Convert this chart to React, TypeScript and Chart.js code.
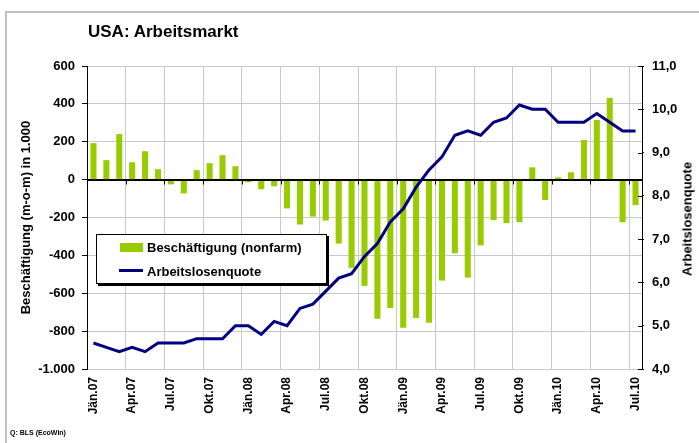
import React, { useEffect, useRef } from "react";
import { Chart, registerables } from "chart.js";

Chart.register(...registerables);

const FONT = "'Liberation Sans', Arial, Helvetica, sans-serif";

const months = [
  "Jän.07", "Feb.07", "Mär.07", "Apr.07", "Mai.07", "Jun.07", "Jul.07", "Aug.07", "Sep.07", "Okt.07", "Nov.07", "Dez.07",
  "Jän.08", "Feb.08", "Mär.08", "Apr.08", "Mai.08", "Jun.08", "Jul.08", "Aug.08", "Sep.08", "Okt.08", "Nov.08", "Dez.08",
  "Jän.09", "Feb.09", "Mär.09", "Apr.09", "Mai.09", "Jun.09", "Jul.09", "Aug.09", "Sep.09", "Okt.09", "Nov.09", "Dez.09",
  "Jän.10", "Feb.10", "Mär.10", "Apr.10", "Mai.10", "Jun.10", "Jul.10",
];

const employment = [
  193, 103, 241, 92, 150, 55, -25, -73, 50, 87, 129, 71,
  -14, -51, -35, -152, -237, -195, -216, -338, -466, -561, -735, -678,
  -782, -731, -756, -533, -389, -517, -347, -214, -230, -225, 65, -108,
  12, 39, 209, 315, 432, -225, -135,
];

const unemployment = [
  4.6, 4.5, 4.4, 4.5, 4.4, 4.6, 4.6, 4.6, 4.7, 4.7, 4.7, 5.0,
  5.0, 4.8, 5.1, 5.0, 5.4, 5.5, 5.8, 6.1, 6.2, 6.6, 6.9, 7.4,
  7.7, 8.2, 8.6, 8.9, 9.4, 9.5, 9.4, 9.7, 9.8, 10.1, 10.0, 10.0,
  9.7, 9.7, 9.7, 9.9, 9.7, 9.5, 9.5,
];

const seriesLabels = ["Beschäftigung (nonfarm)", "Arbeitslosenquote"];
const chartTitle = "USA: Arbeitsmarkt";
const leftAxisTitle = "Beschäftigung (m-o-m) in 1.000";
const rightAxisTitle = "Arbeitslosenquote";
const sourceText = "Q: BLS (EcoWin)";

const leftRange = [-1000, 600, 200];
const rightRange = [4, 11, 1];

const BAR_COLOR = "#99cc00";
const LINE_COLOR = "#000080";
const GRID = "#c8c8c8";

function fmtLeft(v: number): string {
  const neg = v < 0;
  const a = Math.abs(v);
  let s: string;
  if (a >= 1000) {
    s = Math.floor(a / 1000) + "." + String(a % 1000).padStart(3, "0");
  } else {
    s = String(a);
  }
  return (neg ? "-" : "") + s;
}

function fmtRight(v: number): string {
  return v.toFixed(1).replace(".", ",");
}

const axisDecor = {
  id: "axisDecor",
  afterDatasetDraw(chart: any, args: any) {
    if (args.index !== 0) return;
    const { ctx } = chart;
    const x = chart.scales.x;
    const y = chart.scales.y;
    const y1 = chart.scales.y1;
    const y0 = Math.round(y.getPixelForValue(0)) + 0.5;
    ctx.save();
    ctx.strokeStyle = "#000";
    ctx.lineWidth = 1;
    ctx.beginPath();
    ctx.moveTo(x.left, y0);
    ctx.lineTo(x.right, y0);
    const w = x.width / months.length;
    for (let i = 0; i <= months.length; i += 3) {
      const px = Math.round(x.left + i * w) + 0.5;
      ctx.moveTo(px, y0);
      ctx.lineTo(px, y0 + 4);
    }
    y1.ticks.forEach((t: any) => {
      const py = Math.round(y1.getPixelForValue(t.value)) + 0.5;
      ctx.moveTo(y1.left - 4, py);
      ctx.lineTo(y1.left, py);
    });
    ctx.stroke();
    ctx.restore();
  },
};

export default function App() {
  const ref = useRef<HTMLCanvasElement | null>(null);

  useEffect(() => {
    document.body.style.margin = "0";
    if (!ref.current) return;
    const tickFont = { family: FONT, size: 13, weight: "bold" as const };
    const chart = new Chart(ref.current, {
      type: "bar",
      data: {
        labels: months,
        datasets: [
          {
            type: "bar",
            label: seriesLabels[0],
            data: employment,
            backgroundColor: BAR_COLOR,
            borderWidth: 0,
            categoryPercentage: 1,
            barPercentage: 0.47,
            yAxisID: "y",
            order: 1,
          },
          {
            type: "line",
            label: seriesLabels[1],
            data: unemployment,
            borderColor: LINE_COLOR,
            backgroundColor: LINE_COLOR,
            borderWidth: 3,
            pointRadius: 0,
            tension: 0,
            fill: false,
            yAxisID: "y1",
            order: 0,
          } as any,
        ],
      },
      options: {
        animation: false,
        responsive: false,
        maintainAspectRatio: false,
        devicePixelRatio: 1,
        layout: { padding: { top: 66, left: 0, right: 0, bottom: 0 } },
        plugins: {
          legend: { display: false },
          tooltip: { enabled: false },
          title: { display: false },
        },
        scales: {
          x: {
            type: "category",
            offset: true,
            grid: {
              offset: true,
              drawTicks: false,
              color: (c: any) =>
                c.index === undefined || c.index % 3 === 0 ? GRID : "rgba(0,0,0,0)",
            },
            border: { color: GRID },
            ticks: {
              autoSkip: false,
              maxRotation: 90,
              minRotation: 90,
              padding: 8,
              color: "#000",
              font: { family: FONT, size: 12, weight: "bold" },
              callback: (_v: any, i: number) => (i % 3 === 0 ? months[i] : ""),
            },
            afterFit: (s: any) => {
              s.height = 74;
            },
          },
          y: {
            position: "left",
            min: leftRange[0],
            max: leftRange[1],
            ticks: {
              stepSize: leftRange[2],
              padding: 7,
              color: "#000",
              font: tickFont,
              callback: (v: any) => fmtLeft(Number(v)),
            },
            grid: {
              color: (c: any) => (c.tick && c.tick.value === 0 ? "#000" : GRID),
              tickColor: "#000",
              tickLength: 5,
            },
            border: { color: "#000" },
            title: {
              display: true,
              text: leftAxisTitle,
              color: "#000",
              font: { family: FONT, size: 13, weight: "bold" },
              padding: { top: 19, bottom: 0 },
            },
            afterFit: (s: any) => {
              s.width = 87;
            },
          },
          y1: {
            position: "right",
            min: rightRange[0],
            max: rightRange[1],
            ticks: {
              stepSize: rightRange[2],
              padding: 8,
              color: "#000",
              font: tickFont,
              callback: (v: any) => fmtRight(Number(v)),
            },
            grid: {
              drawOnChartArea: false,
              tickColor: "#000",
              tickLength: 2,
            },
            border: { color: "#000" },
            afterFit: (s: any) => {
              s.width = 57;
            },
          },
        },
      } as any,
      plugins: [axisDecor],
    });
    return () => chart.destroy();
  }, []);

  const textBase: React.CSSProperties = {
    position: "absolute",
    fontFamily: FONT,
    fontWeight: "bold",
    color: "#000",
    whiteSpace: "nowrap",
  };

  return (
    <div style={{ position: "relative", width: 699, height: 443, overflow: "hidden", background: "#fff" }}>
      <div
        style={{
          position: "absolute",
          left: 5,
          top: 11,
          width: 720,
          height: 460,
          borderTop: "2px solid #c0c0c0",
          borderLeft: "2px solid #c0c0c0",
        }}
      />
      <canvas ref={ref} width={699} height={443} style={{ position: "absolute", left: 0, top: 0, display: "block" }} />
      <div style={{ ...textBase, left: 88, top: 23, fontSize: 17, lineHeight: "17px" }}>{chartTitle}</div>
      <div
        style={{
          ...textBase,
          left: 687,
          top: 219,
          fontSize: 13,
          lineHeight: "13px",
          transform: "translate(-50%, -50%) rotate(-90deg)",
        }}
      >
        {rightAxisTitle}
      </div>
      <div
        style={{
          position: "absolute",
          left: 96,
          top: 234,
          width: 229,
          height: 48,
          background: "#fff",
          border: "1px solid #000",
          boxShadow: "2px 2px 0 #000",
        }}
      />
      <div style={{ position: "absolute", left: 120, top: 243, width: 23, height: 9, background: BAR_COLOR }} />
      <div style={{ ...textBase, left: 147, top: 241, fontSize: 13, lineHeight: "13px" }}>{seriesLabels[0]}</div>
      <div style={{ position: "absolute", left: 119, top: 269, width: 24, height: 3, background: LINE_COLOR }} />
      <div style={{ ...textBase, left: 147, top: 265, fontSize: 13, lineHeight: "13px" }}>{seriesLabels[1]}</div>
      <div style={{ ...textBase, left: 10, top: 429, fontSize: 7, lineHeight: "8px" }}>{sourceText}</div>
    </div>
  );
}
